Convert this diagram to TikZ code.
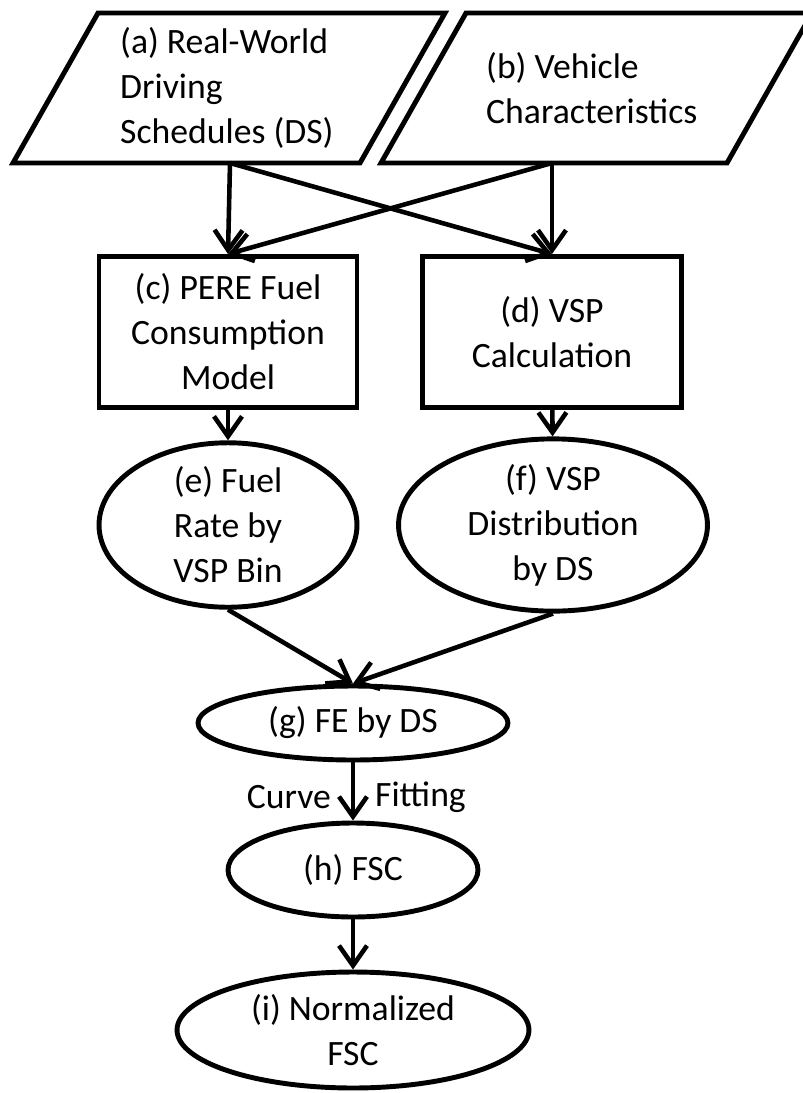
\documentclass[tikz,border=0pt]{standalone}
\usepackage{fontspec}
\setmainfont{Carlito}
\usetikzlibrary{arrows.meta,shapes.geometric}

\begin{document}
\begin{tikzpicture}[x=0.02cm,y=-0.02cm,
    font=\fontsize{20.3}{25.6}\selectfont,
    box/.style={draw,line width=2.8pt,inner sep=0pt,align=center},
    oval/.style={box,ellipse},
    arr/.style={line width=2.6pt,-{Straight Barb[length=0.4cm,width=0.56cm]}}]
    \useasboundingbox (0,0) rectangle (803,1093);
    % inputs
    \draw[line width=2.8pt,line join=miter] (98,13) -- (445,13) -- (360,163) -- (13,163) -- cycle;
    \draw[line width=2.8pt,line join=miter] (466,13) -- (812,13) -- (727,163) -- (381,163) -- cycle;
    \node[align=left,anchor=west] (a) at (114,88) {(a) Real-World\\Driving\\Schedules (DS)};
    \node[align=left,anchor=west] (b) at (480,88) {(b) Vehicle\\Characteristics};
    \coordinate (aout) at (230,163);
    \coordinate (bout) at (552,163);
    % models
    \node[box,minimum width=5.16cm,minimum height=3.02cm] (c) at (228,332) {(c) PERE Fuel\\Consumption\\Model};
    \node[box,minimum width=5.18cm,minimum height=3.02cm] (d) at (552,332) {(d) VSP\\Calculation};
    \node[oval,minimum width=5.16cm,minimum height=2.8cm] (e) at (228,525) {(e) Fuel\\Rate by\\VSP Bin};
    \node[oval,minimum width=6.18cm,minimum height=2.8cm] (f) at (553,525) {(f) VSP\\Distribution\\by DS};
    \node[oval,minimum width=6.2cm,minimum height=1.48cm] (g) at (353,723) {(g) FE by DS};
    \node[oval,minimum width=5cm,minimum height=1.88cm] (h) at (353,870) {(h) FSC};
    \node[oval,minimum width=7.04cm,minimum height=2.32cm] (i) at (353,1030) {(i) Normalized\\FSC};
    % connectors
    \draw[arr] (aout) -- (c.north);
    \draw[arr] (bout) -- (d.north);
    \draw[arr] (aout) -- (d.north);
    \draw[arr] (bout) -- (c.north);
    \draw[arr] (c) -- (e);
    \draw[arr] (d) -- (f);
    \draw[arr] (e.south) -- (g.north);
    \draw[arr] (f.south) -- (g.north);
    \draw[arr] (g) -- (h) node[midway,left=8pt,yshift=-3pt] (cv) {Curve} node[midway,right=8pt,yshift=-3pt] (ft) {Fitting};
    \draw[arr] (h) -- (i);
\end{tikzpicture}
\end{document}
